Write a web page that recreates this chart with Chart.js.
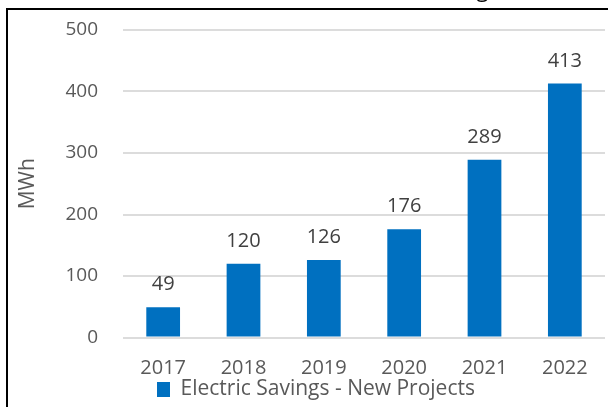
<!DOCTYPE html>
<html>
<head>
<meta charset="utf-8">
<style>
  html, body { margin: 0; padding: 0; background: #fff; }
  #wrap { width: 608px; height: 407px; }
</style>
<script src="https://cdn.jsdelivr.net/npm/chart.js@4/dist/chart.umd.min.js"></script>
</head>
<body>
<div id="wrap"><canvas id="savingsChart" width="608" height="407"></canvas></div>
<script>
const years = ['2017', '2018', '2019', '2020', '2021', '2022'];
const savingsMWh = [49, 120, 126, 176, 289, 413];
const yTicks = [0, 100, 200, 300, 400, 500];
const seriesName = 'Electric Savings - New Projects';
const chartTitle = 'Electric Savings';

const FONT = "'Open Sans', sans-serif";

// frame of the original image + the title that is cut off at the top
const framePlugin = {
    id: 'frame',
    afterDraw(chart) {
        const ctx = chart.ctx;
        ctx.save();
        ctx.strokeStyle = '#000';
        ctx.lineWidth = 2;
        ctx.beginPath();
        ctx.moveTo(7, chart.height);
        ctx.lineTo(7, 9);
        ctx.lineTo(chart.width, 9);
        ctx.stroke();

        ctx.fillStyle = '#000';
        ctx.font = '22px ' + FONT;
        ctx.textAlign = 'right';
        ctx.textBaseline = 'alphabetic';
        ctx.fillText(chartTitle, 499, -3);
        ctx.restore();
    }
};

// value labels above the bars
const valueLabels = {
    id: 'valueLabels',
    afterDatasetsDraw(chart) {
        const ctx = chart.ctx;
        const meta = chart.getDatasetMeta(0);
        ctx.save();
        ctx.fillStyle = '#404040';
        ctx.font = '20px ' + FONT;
        ctx.textAlign = 'center';
        ctx.textBaseline = 'alphabetic';
        meta.data.forEach((bar, i) => {
            ctx.fillText(String(savingsMWh[i]), bar.x, bar.y - 17);
        });
        ctx.restore();
    }
};

// legend sits left of centre in the original
const legendNudge = {
    id: 'legendNudge',
    afterLayout(chart) {
        const lg = chart.legend;
        const w = lg.right - lg.left;
        lg.left = 157;
        lg.right = 157 + w;
        lg.top += 3;
        lg.bottom += 3;
    }
};

const ctx = document.getElementById('savingsChart').getContext('2d');
new Chart(ctx, {
    type: 'bar',
    data: {
        labels: years,
        datasets: [{
            label: seriesName,
            data: savingsMWh,
            backgroundColor: '#0070C0',
            borderWidth: 0,
            barPercentage: 0.42,
            categoryPercentage: 1
        }]
    },
    options: {
        responsive: false,
        animation: false,
        devicePixelRatio: 1,
        layout: { padding: { top: 30, right: 3, bottom: 0, left: 0 } },
        plugins: {
            legend: {
                position: 'bottom',
                align: 'start',
                labels: {
                    boxWidth: 13,
                    boxHeight: 15,
                    padding: 0,
                    color: '#595959',
                    font: { family: FONT, size: 21, lineHeight: 0.95 }
                }
            },
            tooltip: { enabled: false }
        },
        scales: {
            x: {
                grid: { display: false, drawTicks: false },
                border: { display: false },
                ticks: {
                    color: '#595959',
                    font: { family: FONT, size: 20 },
                    padding: 19,
                    maxRotation: 0
                },
                afterFit(scale) { scale.height = 38.5; }
            },
            y: {
                min: 0,
                max: 500,
                afterBuildTicks(scale) {
                    scale.ticks = yTicks.map(v => ({ value: v }));
                },
                grid: { color: '#dcdcdc', lineWidth: 2, drawTicks: false },
                border: { display: false },
                ticks: {
                    color: '#595959',
                    font: { family: FONT, size: 19 },
                    padding: 25
                },
                title: {
                    display: true,
                    text: 'MWh',
                    color: '#595959',
                    font: { family: FONT, size: 21 },
                    padding: { top: 15, bottom: 0 }
                },
                afterFit(scale) {
                    scale.width = 123;
                    scale.paddingTop = 0;
                    scale.paddingBottom = 0;
                }
            }
        }
    },
    plugins: [framePlugin, valueLabels, legendNudge]
});
</script>
</body>
</html>
